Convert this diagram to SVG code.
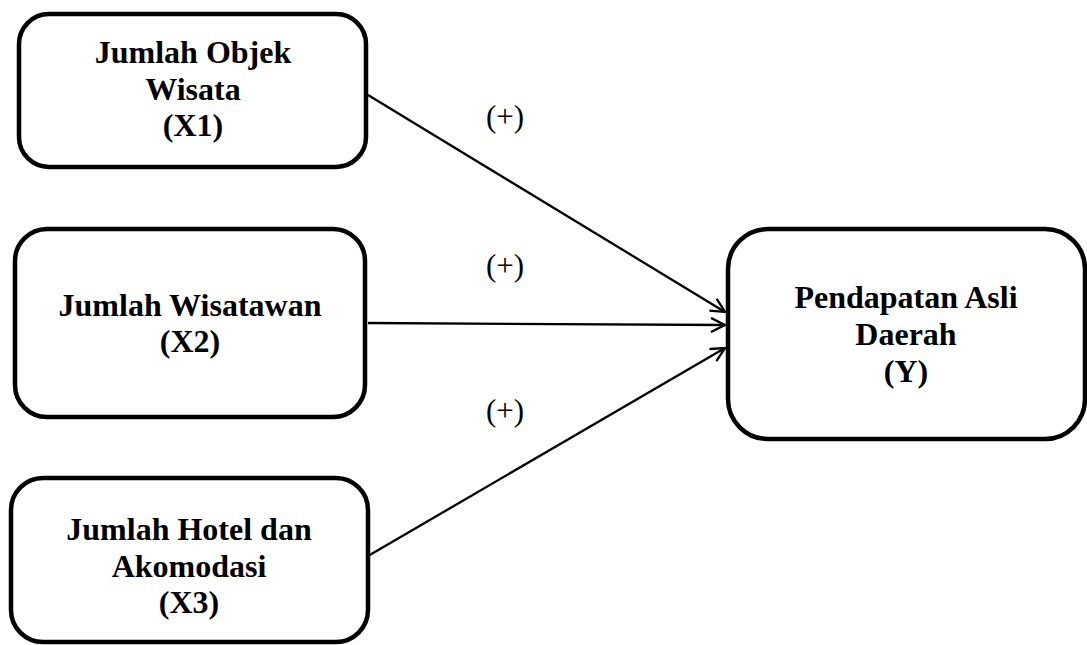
<svg xmlns="http://www.w3.org/2000/svg" width="1087" height="645" viewBox="0 0 1087 645">
<defs>
<style>
.box{fill:#fff;stroke:#000;stroke-width:4.5}
.t{font-family:"Liberation Serif","Times New Roman",serif;font-weight:bold;font-size:32px;text-anchor:middle;fill:#000}
.lbl{font-family:"Liberation Serif","Times New Roman",serif;font-size:31px;text-anchor:middle;fill:#000}
.c{stroke:#000;stroke-width:2.3;fill:none}
</style>
<marker id="arr" viewBox="0 0 16 16" refX="15" refY="8" markerWidth="16" markerHeight="16" markerUnits="userSpaceOnUse" orient="auto">
<path d="M1,1 L15,8 L1,15" fill="none" stroke="#000" stroke-width="2.3"/>
</marker>
</defs>
<g id="connectors">
<line class="c" x1="368" y1="95" x2="725" y2="312" marker-end="url(#arr)"/>
<line class="c" x1="368" y1="323" x2="725" y2="325" marker-end="url(#arr)"/>
<line class="c" x1="368" y1="556" x2="725" y2="348" marker-end="url(#arr)"/>
<text class="lbl" x="505" y="127">(+)</text>
<text class="lbl" x="505" y="276">(+)</text>
<text class="lbl" x="505" y="421">(+)</text>
</g>
<g id="x1">
<rect class="box" x="19" y="14" width="347" height="153" rx="30"/>
<text class="t" x="193" y="63">Jumlah Objek</text>
<text class="t" x="193" y="100">Wisata</text>
<text class="t" x="193" y="136">(X1)</text>
</g>
<g id="x2">
<rect class="box" x="15" y="229" width="350" height="188" rx="32"/>
<text class="t" x="190" y="316">Jumlah Wisatawan</text>
<text class="t" x="190" y="352">(X2)</text>
</g>
<g id="x3">
<rect class="box" x="11" y="478" width="357" height="164" rx="32"/>
<text class="t" x="189" y="540">Jumlah Hotel dan</text>
<text class="t" x="189" y="577">Akomodasi</text>
<text class="t" x="189" y="613">(X3)</text>
</g>
<g id="y">
<rect class="box" x="728" y="229" width="357" height="210" rx="40"/>
<text class="t" x="906" y="308">Pendapatan Asli</text>
<text class="t" x="906" y="345">Daerah</text>
<text class="t" x="906" y="382">(Y)</text>
</g>
</svg>
